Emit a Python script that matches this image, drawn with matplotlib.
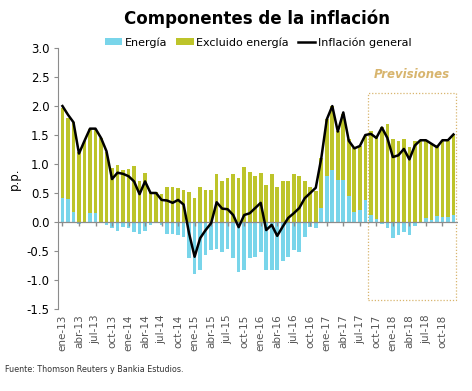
import numpy as np
import matplotlib
matplotlib.use("Agg")
import matplotlib.pyplot as plt
from matplotlib.patches import Rectangle

# monthly data, ene-13 .. dic-18
meses = ["ene", "feb", "mar", "abr", "may", "jun", "jul", "ago", "sep", "oct", "nov", "dic"]
anios = ["13", "14", "15", "16", "17", "18"]
fechas = [m + "-" + a for a in anios for m in meses]

energia = [0.42, 0.40, 0.18, -0.03, 0.0, 0.15, 0.15, 0.0, -0.06, -0.10, -0.16, -0.09,
           -0.10, -0.18, -0.20, -0.16, -0.05, -0.02, -0.06, -0.20, -0.21, -0.22, -0.26, -0.63,
           -0.89, -0.83, -0.57, -0.49, -0.47, -0.52, -0.46, -0.63, -0.86, -0.83, -0.63, -0.60,
           -0.52, -0.83, -0.83, -0.83, -0.68, -0.60, -0.49, -0.52, -0.26, -0.08, -0.10, 0.24,
           0.79, 0.90, 0.73, 0.73, 0.44, 0.18, 0.20, 0.38, 0.12, 0.05, -0.03, -0.10,
           -0.28, -0.23, -0.17, -0.23, -0.07, 0.0, 0.07, 0.03, 0.10, 0.08, 0.08, 0.12]

excluido = [1.55, 1.40, 1.54, 1.20, 1.40, 1.46, 1.46, 1.45, 1.20, 0.93, 0.98, 0.90,
            0.91, 0.97, 0.70, 0.85, 0.51, 0.51, 0.48, 0.60, 0.60, 0.59, 0.56, 0.51,
            0.41, 0.60, 0.56, 0.56, 0.82, 0.71, 0.76, 0.82, 0.76, 0.95, 0.87, 0.80,
            0.85, 0.64, 0.82, 0.61, 0.70, 0.71, 0.82, 0.80, 0.71, 0.60, 0.53, 0.86,
            0.98, 1.10, 0.84, 1.13, 0.99, 1.10, 1.11, 1.10, 1.45, 1.43, 1.63, 1.69,
            1.43, 1.40, 1.43, 1.29, 1.40, 1.40, 1.33, 1.34, 1.22, 1.32, 1.32, 1.39]

general = [2.00, 1.85, 1.72, 1.18, 1.40, 1.61, 1.61, 1.45, 1.22, 0.74, 0.85, 0.83,
           0.79, 0.70, 0.48, 0.70, 0.50, 0.50, 0.38, 0.37, 0.33, 0.38, 0.30, -0.20,
           -0.60, -0.28, -0.14, -0.02, 0.34, 0.23, 0.22, 0.12, -0.09, 0.12, 0.15, 0.24,
           0.33, -0.14, -0.05, -0.24, -0.08, 0.07, 0.15, 0.24, 0.41, 0.50, 0.59, 1.10,
           1.77, 2.00, 1.56, 1.89, 1.40, 1.27, 1.31, 1.50, 1.52, 1.45, 1.63, 1.45,
           1.12, 1.15, 1.26, 1.08, 1.32, 1.41, 1.41, 1.35, 1.29, 1.41, 1.41, 1.51]

inicio_prevision = "sep-17"

x = np.arange(len(fechas))
en = np.array(energia)
ex = np.array(excluido)
base_ex = np.where(en > 0, en, 0)

c_en = "#79D5EA"
c_ex = "#BDC42A"
c_prev = "#D8B56E"

fig = plt.figure(figsize=(4.72, 3.91), dpi=100)
ax = fig.add_axes([0.123, 0.21, 0.847, 0.667])

b1 = ax.bar(x, en, width=0.66, color=c_en, label="Energía", zorder=2)
b2 = ax.bar(x, ex, bottom=base_ex, width=0.66, color=c_ex, label="Excluido energía", zorder=2)
l1, = ax.plot(x, general, color="black", lw=1.8, label="Inflación general", zorder=4)

ax.axhline(0, color="#8c8c8c", lw=0.9, zorder=3)
ticks = x[::3]
ax.plot(ticks, np.zeros(len(ticks)), ls="none", marker=3, ms=3, color="#8c8c8c", zorder=3)

# forecast box
i0 = fechas.index(inicio_prevision)
ax.add_patch(Rectangle((i0 - 0.5, -1.35), len(fechas) - i0, 3.58, fill=False,
                       ls=(0, (1, 1.5)), lw=0.9, ec=c_prev, zorder=1))
ax.text((i0 + len(fechas)) / 2 - 0.5, 2.55, "Previsiones", color=c_prev,
        style="italic", fontweight="bold", fontsize=8.5, ha="center", va="center")

ax.set_xlim(-0.8, len(fechas) - 0.2)
ax.set_ylim(-1.5, 3.0)
ax.set_yticks(np.arange(-1.5, 3.01, 0.5))
ax.set_yticklabels([f"{v:.1f}" for v in np.arange(-1.5, 3.01, 0.5)], fontsize=8.5)
ax.set_xticks(ticks)
ax.set_xticklabels([fechas[i] for i in ticks], rotation=90, fontsize=7.5, color="#555555")
ax.tick_params(axis="x", length=0, pad=4)
ax.tick_params(axis="y", length=3, color="#8c8c8c", pad=3)
for s in ["top", "right", "bottom"]:
    ax.spines[s].set_visible(False)
ax.spines["left"].set_color("#8c8c8c")
ax.set_ylabel("p.p.", fontsize=8.5)

fig.text(0.545, 0.953, "Componentes de la inflación", ha="center", va="center",
         fontsize=12, fontweight="bold")
ax.legend([b1, b2, l1], ["Energía", "Excluido energía", "Inflación general"],
          loc="lower center", bbox_to_anchor=(0.5, 0.985), ncol=3, frameon=False,
          fontsize=8, handlelength=1.6, handleheight=0.5, handletextpad=0.2,
          columnspacing=0.8, borderaxespad=0)
fig.text(0.01, 0.048, "Fuente: Thomson Reuters y Bankia Estudios.", fontsize=5.8,
         color="#333333")

fig.savefig("out.png", dpi=100)
